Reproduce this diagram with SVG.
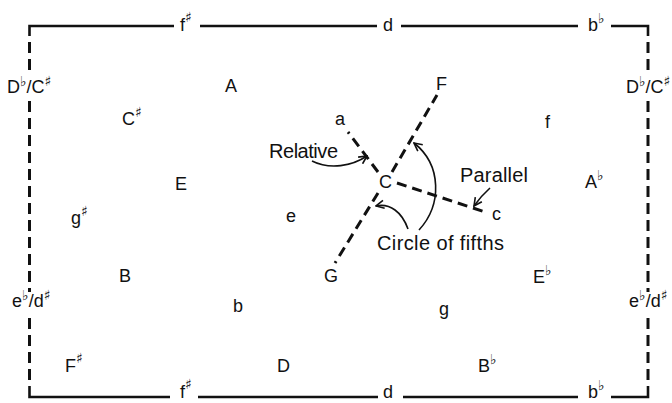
<svg xmlns="http://www.w3.org/2000/svg" width="672" height="403" viewBox="0 0 672 403">
<defs>
<style>
.t{font-family:"Liberation Sans",Arial,sans-serif;font-size:18px;fill:#111}
.lb{font-size:20px}
.acc{font-family:"DejaVu Sans",sans-serif;font-size:14px;font-weight:bold}
.frame{stroke:#111;stroke-width:2.6;fill:none}
.vd{stroke:#111;stroke-width:3;fill:none;stroke-dasharray:11 6}
.rd{stroke:#111;stroke-width:3;fill:none;stroke-dasharray:10 6}
.ar{stroke:#111;stroke-width:1.6;fill:none;marker-end:url(#ah)}
</style>
<marker id="ah" viewBox="0 0 10 10" refX="9" refY="5" markerWidth="10" markerHeight="10" markerUnits="userSpaceOnUse" orient="auto">
<path d="M1,1 L9,5 L1,9" fill="none" stroke="#111" stroke-width="1.6"/>
</marker>
</defs>
<rect width="672" height="403" fill="#fff"/>

<g id="frame">
<path class="frame" d="M29.5,36 V26 H174 M200,26 H377 M401,26 H578 M611,26 H648 V36"/>
<path class="frame" d="M29.5,386 V397 H170 M198,397 H378 M403,397 H578 M611,397 H648 V386"/>
<path class="vd" d="M29.5,42 V72 M29.5,101 V292 M29.5,318 V384"/>
<path class="vd" d="M648,42 V72 M648,101 V292 M648,318 V384"/>
</g>

<g id="edge-labels">
<g id="top-fs"><text class="t" x="180" y="31">f<tspan class="acc" dy="-9">♯</tspan></text></g>
<g id="top-d"><text class="t" x="383" y="31">d</text></g>
<g id="top-bb"><text class="t" x="588" y="31">b<tspan class="acc" dy="-8">♭</tspan></text></g>
<g id="bot-fs"><text class="t" x="180" y="398">f<tspan class="acc" dy="-9">♯</tspan></text></g>
<g id="bot-d"><text class="t" x="383" y="398">d</text></g>
<g id="bot-bb"><text class="t" x="588" y="398">b<tspan class="acc" dy="-8">♭</tspan></text></g>
<g id="left-Db"><text class="t" x="7" y="93">D<tspan class="acc" dy="-7">♭</tspan><tspan dy="7">/C</tspan><tspan class="acc" dy="-7">♯</tspan></text></g>
<g id="right-Db"><text class="t" x="626" y="93">D<tspan class="acc" dy="-7">♭</tspan><tspan dy="7">/C</tspan><tspan class="acc" dy="-7">♯</tspan></text></g>
<g id="left-eb"><text class="t" x="12" y="307">e<tspan class="acc" dy="-7">♭</tspan><tspan dy="7">/d</tspan><tspan class="acc" dy="-7">♯</tspan></text></g>
<g id="right-eb"><text class="t" x="629" y="307">e<tspan class="acc" dy="-7">♭</tspan><tspan dy="7">/d</tspan><tspan class="acc" dy="-7">♯</tspan></text></g>
</g>

<g id="connectors">
<line class="rd" x1="378" y1="172" x2="348" y2="132"/>
<line class="rd" x1="392" y1="172" x2="437" y2="95"/>
<line class="rd" x1="378" y1="193" x2="335" y2="263"/>
<line class="rd" x1="397" y1="183" x2="488" y2="213"/>
<path class="ar" d="M312,161 C330,170 352,166 367,156"/>
<path class="ar" d="M490,188 Q481,196 474,206"/>
<path class="ar" d="M408,229 C402,212 390,203 376,206"/>
<path class="ar" d="M419,230 C442,205 442,165 414,143"/>
</g>

<g id="n-A"><text class="t" x="225" y="92">A</text></g>
<g id="n-Cs"><text class="t" x="122" y="125">C<tspan class="acc" dy="-8">♯</tspan></text></g>
<g id="n-E"><text class="t" x="175" y="190">E</text></g>
<g id="n-gs"><text class="t" x="71" y="224">g<tspan class="acc" dy="-8">♯</tspan></text></g>
<g id="n-e"><text class="t" x="286" y="222">e</text></g>
<g id="n-B"><text class="t" x="119" y="282">B</text></g>
<g id="n-b"><text class="t" x="233" y="312">b</text></g>
<g id="n-Fs"><text class="t" x="65" y="372">F<tspan class="acc" dy="-9">♯</tspan></text></g>
<g id="n-D"><text class="t" x="277" y="372">D</text></g>
<g id="n-G"><text class="t" x="324" y="282">G</text></g>
<g id="n-C"><text class="t" x="379" y="188">C</text></g>
<g id="n-c"><text class="t" x="492" y="220">c</text></g>
<g id="n-a"><text class="t" x="335" y="125">a</text></g>
<g id="n-F"><text class="t" x="436" y="90">F</text></g>
<g id="n-f"><text class="t" x="545" y="128">f</text></g>
<g id="n-Ab"><text class="t" x="585" y="188">A<tspan class="acc" dy="-8">♭</tspan></text></g>
<g id="n-Eb"><text class="t" x="533" y="283">E<tspan class="acc" dy="-8">♭</tspan></text></g>
<g id="n-g"><text class="t" x="439" y="315">g</text></g>
<g id="n-Bb"><text class="t" x="478" y="372">B<tspan class="acc" dy="-8">♭</tspan></text></g>

<g id="labels">
<text class="t lb" x="269" y="158" textLength="69" lengthAdjust="spacing">Relative</text>
<text class="t lb" x="460" y="182" textLength="68" lengthAdjust="spacing">Parallel</text>
<text class="t lb" x="377" y="250" textLength="127" lengthAdjust="spacing">Circle of fifths</text>
</g>
</svg>
